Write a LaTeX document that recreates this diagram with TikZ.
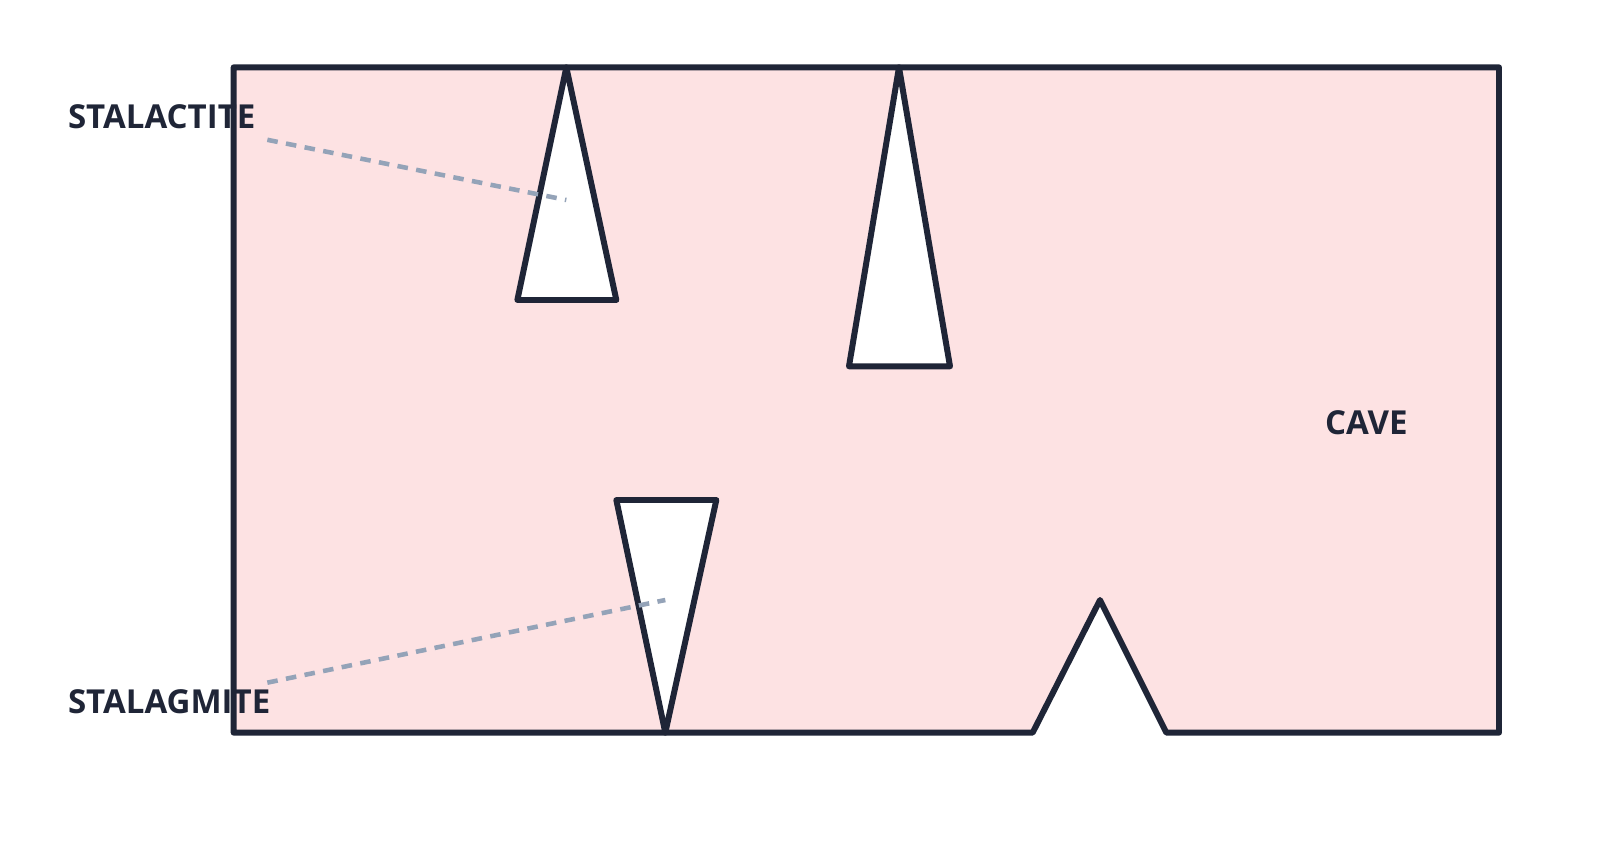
\documentclass[tikz,border=0pt]{standalone}
\usepackage{fontspec}
\setmainfont{Open Sans}
\definecolor{inkdark}{HTML}{1F2537}
\definecolor{cavepink}{HTML}{FDE2E3}
\definecolor{dashgrey}{HTML}{94A3B8}
\begin{document}
\begin{tikzpicture}[x=0.010204cm,y=-0.010204cm,
    rock/.style = {draw=inkdark, line width=1.7pt, line join=round, line cap=round},
    pointer/.style = {draw=dashgrey, line width=1.3pt, dash pattern=on 3pt off 2.4pt},
    label/.style = {font=\bfseries\fontsize{9.4}{10}\selectfont, text=inkdark, inner sep=0pt}]
    \useasboundingbox (0,0) rectangle (1568,849.7);
    % cave outline with the notch in the floor
    \path[rock, fill=cavepink] (229,66) -- (1469,66) -- (1469,718) -- (1143,718)
        -- (1078,588) -- (1012,718) -- (229,718) -- cycle;
    % stalactites and stalagmite
    \path[rock, fill=white] (555,66) -- (604,294) -- (507,294) -- cycle;
    \path[rock, fill=white] (881,66) -- (931,359) -- (832,359) -- cycle;
    \path[rock, fill=white] (604,490) -- (702,490) -- (652,718) -- cycle;
    % labels
    \node[label, anchor=west] (stalactite) at (66,114) {STALACTITE};
    \node[label, anchor=west] (stalagmite) at (66,688) {STALAGMITE};
    \node[label] (cave) at (1339,414) {CAVE};
    \coordinate (tipA) at (555,196);
    \coordinate (tipB) at (652,588);
    \draw[pointer] (262,137) -- (tipA);
    \draw[pointer] (262,669) -- (tipB);
\end{tikzpicture}
\end{document}
